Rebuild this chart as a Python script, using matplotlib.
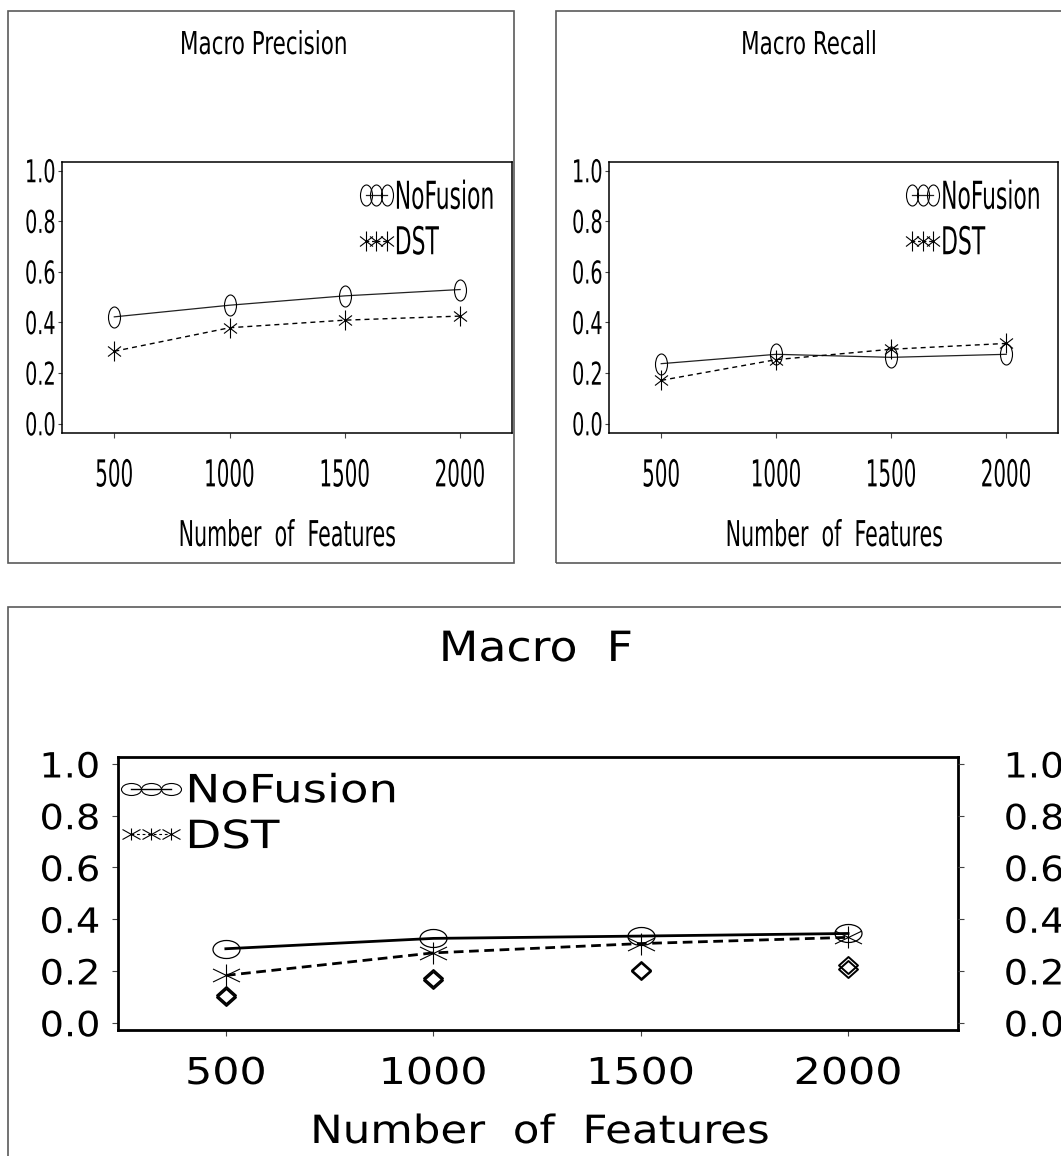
import matplotlib
matplotlib.use("Agg")
import matplotlib.pyplot as plt
from matplotlib import font_manager as fm
from matplotlib.path import Path
from matplotlib.transforms import Affine2D
from matplotlib.lines import Line2D
from matplotlib.patches import Rectangle
from matplotlib.font_manager import FontProperties
from matplotlib.patheffects import AbstractPathEffect

# ---------------- data ----------------
features = [500, 1000, 1500, 2000]
x_tick_labels = ["500", "1000", "1500", "2000"]
y_ticks = [0.0, 0.2, 0.4, 0.6, 0.8, 1.0]
y_tick_labels = ["0.0", "0.2", "0.4", "0.6", "0.8", "1.0"]
series_names = ["NoFusion", "DST"]

precision_nofusion = [0.422, 0.468, 0.505, 0.530]
precision_dst = [0.286, 0.379, 0.409, 0.425]

recall_nofusion = [0.237, 0.274, 0.262, 0.274]
recall_dst = [0.171, 0.253, 0.294, 0.317]

f_nofusion = [0.286, 0.326, 0.335, 0.345]
f_dst = [0.183, 0.270, 0.306, 0.330]
f_diamond_a = [0.106, 0.172, 0.203, 0.222]
f_diamond_b = [0.101, 0.166, 0.199, 0.208]

titles = ["Macro Precision", "Macro Recall", "Macro  F"]
x_label = "Number  of  Features"

# ---------------- fonts ----------------
names = {f.name for f in fm.fontManager.ttflist}
if "Liberation Sans Narrow" in names:
    NARROW = dict(family="Liberation Sans Narrow")
elif any(f.name == "DejaVu Sans" and f.stretch == "condensed" for f in fm.fontManager.ttflist):
    NARROW = dict(family="DejaVu Sans", stretch="condensed")
else:
    NARROW = dict(family="Liberation Sans")
WIDE = dict(family="DejaVu Sans")


def fp(base, size):
    return FontProperties(size=size, **base)


class Stretch(AbstractPathEffect):
    """Scale glyph outlines of a text about an anchor (keeps the text a Text)."""

    def __init__(self, sx=1.0, sy=1.0, h="center", v="baseline"):
        super().__init__()
        self.sx, self.sy, self.h, self.v = sx, sy, h, v

    def draw_path(self, renderer, gc, tpath, affine, rgbFace=None):
        ext = tpath.get_extents()
        cx = {"left": ext.x0, "center": 0.5 * (ext.x0 + ext.x1), "right": ext.x1}[self.h]
        cy = {"baseline": 0.0, "center": 0.5 * (ext.y0 + ext.y1),
              "top": ext.y1, "bottom": ext.y0}[self.v]
        t = Affine2D().translate(-cx, -cy).scale(self.sx, self.sy).translate(cx, cy)
        renderer.draw_path(gc, tpath, t + affine, rgbFace)


W, H = 1061, 1156
plt.rcParams["lines.scale_dashes"] = False
fig = plt.figure(figsize=(W / 100, H / 100), dpi=100)
fig.patch.set_facecolor("white")


def rect(px0, py0, px1, py1):
    return [px0 / W, 1 - py1 / H, (px1 - px0) / W, (py1 - py0) / H]


# outer panel frames
for (x0, y0, x1, y1) in [(8, 11, 514, 563), (556, 11, 1075, 563), (8, 607, 1080, 1175)]:
    fig.add_artist(Rectangle((x0 / W, 1 - y1 / H), (x1 - x0) / W, (y1 - y0) / H,
                             transform=fig.transFigure, fill=False,
                             edgecolor="#5a5a5a", linewidth=1.2))


# ---------------- marker shapes ----------------
def ellipse(a, b):
    return Path.unit_circle().transformed(Affine2D().scale(a, b))


def star(v, dx, dy):
    verts = [(0, -v), (0, v), (-dx, -dy), (dx, dy), (-dx, dy), (dx, -dy)]
    codes = [Path.MOVETO, Path.LINETO] * 3
    return Path(verts, codes)


def diamond(a, b):
    verts = [(0, b), (a, 0), (0, -b), (-a, 0), (0, b)]
    codes = [Path.MOVETO, Path.LINETO, Path.LINETO, Path.LINETO, Path.CLOSEPOLY]
    return Path(verts, codes)


PX = 0.72  # points per pixel

top_circle = ellipse(6, 10.5)
top_star = star(10, 6.5, 5)
bot_circle = ellipse(13.5, 9)
bot_star = star(11, 13.5, 6.5)
bot_diamond = diamond(9.5, 8.5)
leg_circle = ellipse(10, 6)
leg_star = star(6, 9, 5)


# ---------------- top panels ----------------
def top_panel(ax, nof, dst, title, tcx, lcx):
    ax.plot(features, nof, color="#222222", lw=0.9, marker=top_circle,
            ms=21 * PX, mfc="none", mec="black", mew=0.8, zorder=3)
    ax.plot(features, dst, color="black", lw=1.0, dashes=(3.6, 2.9), marker=top_star,
            ms=20 * PX, mfc="none", mec="black", mew=0.8, zorder=3)
    ax.set_xlim(273, 2225)
    ax.set_ylim(-0.037, 1.034)
    ax.set_xticks(features, x_tick_labels, fontproperties=fp(NARROW, 15.9))
    ax.set_yticks(y_ticks, y_tick_labels, fontproperties=fp(NARROW, 15.4))
    ax.tick_params(axis="x", direction="out", length=3.6, width=0.8, pad=15.3, color="#444")
    ax.tick_params(axis="y", direction="out", length=3.2, width=0.8, pad=1.5, color="#444")
    for lbl in ax.get_xticklabels():
        lbl.set_path_effects([Stretch(1.0, 1.68, "center", "top")])
    for lbl in ax.get_yticklabels():
        lbl.set_path_effects([Stretch(1.0, 1.47, "right", "center")])
    for s in ax.spines.values():
        s.set_linewidth(1.1)
    h1 = Line2D([], [], color="#222222", lw=0.9, marker=top_circle, ms=21 * PX,
                mfc="none", mec="black", mew=0.8)
    h2 = Line2D([], [], color="black", lw=0.9, dashes=(2, 2), marker=top_star, ms=20 * PX,
                mfc="none", mec="black", mew=0.8)
    leg = ax.legend([h1, h2], series_names, loc="upper left", bbox_to_anchor=(0.659, 0.917),
                    frameon=False, borderpad=0, borderaxespad=0, handlelength=1.47,
                    handletextpad=0.02, labelspacing=0.89, numpoints=3,
                    prop=fp(NARROW, 17.5))
    for t in leg.get_texts():
        t.set_path_effects([Stretch(1.0, 1.58, "left", "center")])
    fig.text(tcx / W, 1 - 54 / H, title, ha="center", va="baseline",
             fontproperties=fp(NARROW, 17.2),
             path_effects=[Stretch(1.0, 1.32, "center", "baseline")])
    fig.text(lcx / W, 1 - 546 / H, x_label, ha="center", va="baseline",
             fontproperties=fp(NARROW, 16.5),
             path_effects=[Stretch(1.0, 1.55, "center", "baseline")])


axP = fig.add_axes(rect(62, 162, 512, 433))
top_panel(axP, precision_nofusion, precision_dst, titles[0], 264, 287)
axR = fig.add_axes(rect(609, 162, 1058, 433))
top_panel(axR, recall_nofusion, recall_dst, titles[1], 809, 834)

# ---------------- bottom panel ----------------
axF = fig.add_axes(rect(118, 757, 958, 1030))
axF.plot(features, f_diamond_b, ls="none", marker=bot_diamond, ms=19 * PX,
         mfc="white", mec="black", mew=1.4, zorder=2)
axF.plot(features, f_diamond_a, ls="none", marker=bot_diamond, ms=19 * PX,
         mfc="none", mec="black", mew=1.4, zorder=2)
axF.plot(features, f_dst, color="black", lw=2.0, dashes=(7, 4), marker=bot_star,
         ms=27 * PX, mfc="none", mec="black", mew=0.8, zorder=3)
axF.plot(features, f_nofusion, color="black", lw=2.0, marker=bot_circle,
         ms=27 * PX, mfc="none", mec="black", mew=0.9, zorder=4)
axF.set_xlim(240, 2265)
axF.set_ylim(-0.028, 1.027)
axF.set_xticks(features, x_tick_labels, fontproperties=fp(WIDE, 28))
axF.set_yticks(y_ticks, y_tick_labels, fontproperties=fp(WIDE, 25))
axF.tick_params(axis="x", direction="out", length=4.3, width=0.8, pad=14, color="#444")
axF.tick_params(axis="y", direction="out", length=4.3, width=0.8, pad=8.6, color="#444")
for lbl in axF.get_xticklabels():
    lbl.set_path_effects([Stretch(1.1, 0.95, "center", "top")])
for lbl in axF.get_yticklabels():
    lbl.set_path_effects([Stretch(1.1, 1.0, "right", "center")])
for s in axF.spines.values():
    s.set_linewidth(2.0)

axF2 = axF.twinx()
axF2.set_ylim(axF.get_ylim())
axF2.set_yticks(y_ticks, y_tick_labels, fontproperties=fp(WIDE, 25))
axF2.tick_params(axis="y", direction="out", length=4.3, width=0.8, pad=28.8, color="#444")
for lbl in axF2.get_yticklabels():
    lbl.set_path_effects([Stretch(1.1, 1.0, "left", "center")])
for s in axF2.spines.values():
    s.set_visible(False)

hb1 = Line2D([], [], color="black", lw=1.0, marker=leg_circle, ms=20 * PX,
             mfc="none", mec="black", mew=0.8)
hb2 = Line2D([], [], color="black", lw=0.8, dashes=(2, 2), marker=leg_star, ms=18 * PX,
             mfc="none", mec="black", mew=0.8)
legF = axF.legend([hb1, hb2], series_names, loc="upper left", bbox_to_anchor=(0.001, 0.944),
                  frameon=False, borderpad=0, borderaxespad=0, handlelength=1.65,
                  handletextpad=0.08, labelspacing=0.2, numpoints=3, prop=fp(WIDE, 28))
for t in legF.get_texts():
    t.set_path_effects([Stretch(1.2, 1.0, "left", "center")])

fig.text(536 / W, 1 - 661 / H, titles[2], ha="center", va="baseline",
         fontproperties=fp(WIDE, 30),
         path_effects=[Stretch(1.1, 1.0, "center", "baseline")])
fig.text(540 / W, 1 - 1143 / H, x_label, ha="center", va="baseline",
         fontproperties=fp(WIDE, 28),
         path_effects=[Stretch(1.12, 1.0, "center", "baseline")])

fig.savefig("out.png", dpi=100, facecolor="white")
